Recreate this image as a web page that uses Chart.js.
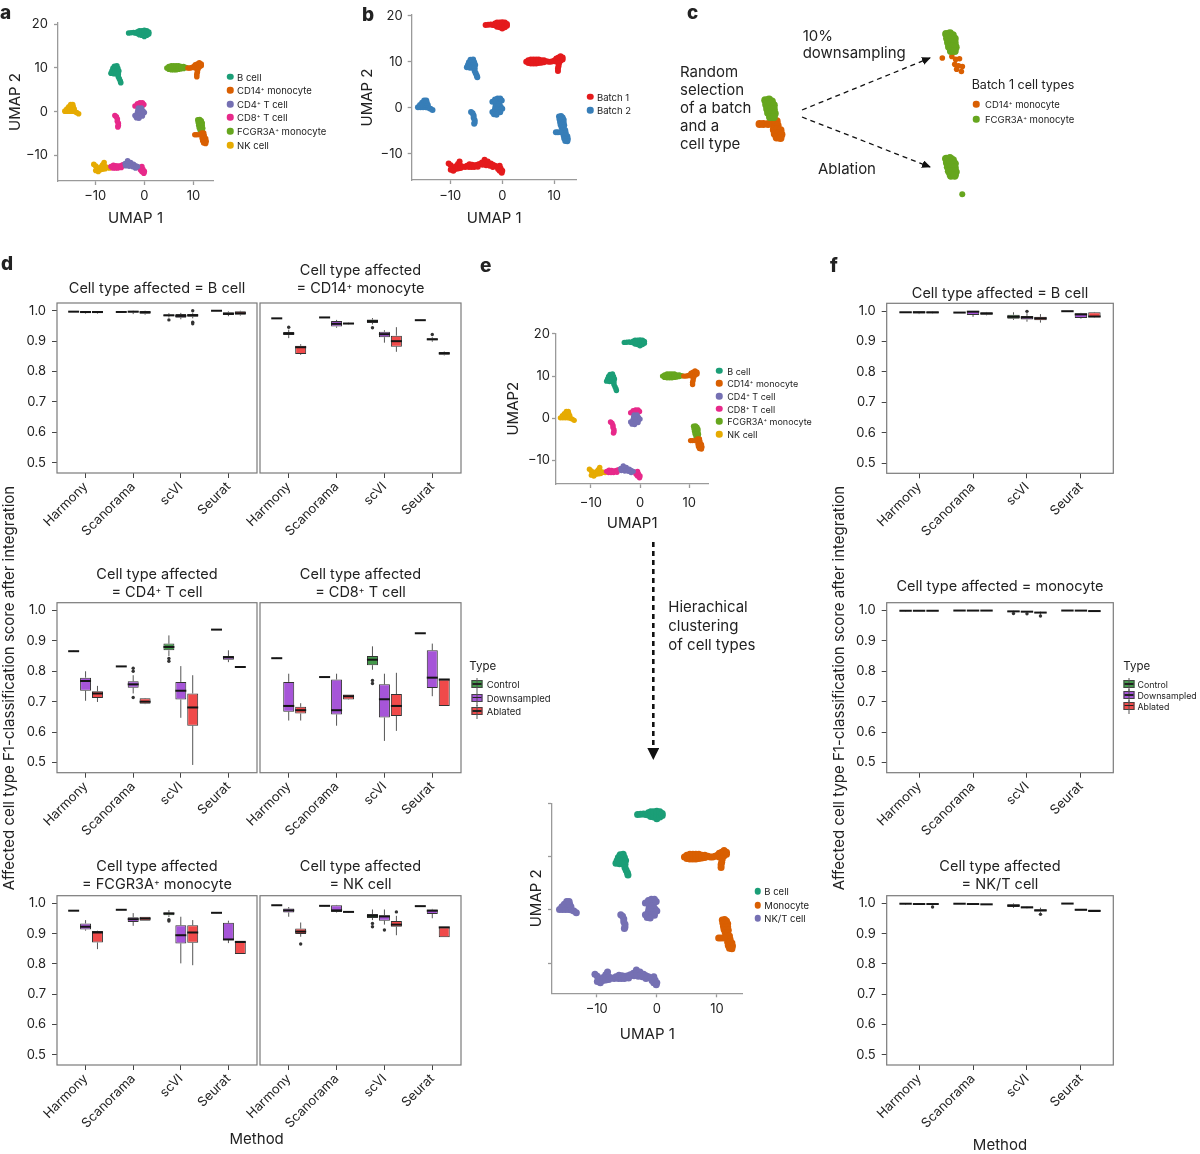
<!DOCTYPE html>
<html><head><meta charset="utf-8">
<script src="https://cdn.jsdelivr.net/npm/chart.js@4.4.0/dist/chart.umd.min.js"></script>
<style>
body{margin:0;background:#fff;}
#fig{position:relative;width:1200px;height:1154px;overflow:hidden;font-family:Inter,"Liberation Sans",Arial,sans-serif;color:#222;background:#fff;}
canvas{position:absolute;}
.t{position:absolute;white-space:nowrap;z-index:5;}
.t sup{font-size:60%;position:relative;top:-0.5em;vertical-align:baseline;line-height:0;}
.dot{position:absolute;width:6.5px;height:6.5px;border-radius:50%;transform:translate(-50%,-50%);z-index:5;}
.key{position:absolute;width:9px;height:6px;border:1px solid #444;transform:translate(-50%,-50%);z-index:5;}
.key:before{content:"";position:absolute;left:0;right:0;top:2px;height:1.5px;background:#222;}
.key:after{content:"";position:absolute;left:4px;width:1px;top:-3px;height:14px;background:#555;z-index:-1;}
svg{position:absolute;left:0;top:0;z-index:4;}
</style></head><body><div id="fig">
<svg width="1200" height="1154">
<defs>
<marker id="ahS" markerUnits="userSpaceOnUse" markerWidth="9" markerHeight="8" refX="8" refY="4" orient="auto"><path d="M0,0 L9,4 L0,8 z" fill="#111"/></marker>
<marker id="ahL" markerUnits="userSpaceOnUse" markerWidth="12" markerHeight="12" refX="10" refY="6" orient="auto"><path d="M0,0 L12,6 L0,12 z" fill="#111"/></marker>
</defs>
<line x1="802" y1="110" x2="930" y2="58" stroke="#111" stroke-width="1.3" stroke-dasharray="5,4" marker-end="url(#ahS)"/>
<line x1="802" y1="117" x2="930" y2="167" stroke="#111" stroke-width="1.3" stroke-dasharray="5,4" marker-end="url(#ahS)"/>
<line x1="653.3" y1="542" x2="653.3" y2="758" stroke="#111" stroke-width="2.6" stroke-dasharray="5,4" marker-end="url(#ahL)"/>
</svg>
</div>
<script>
// ================= DATA =================
const methods = ['Harmony', 'Scanorama', 'scVI', 'Seurat'];
const methodPos = [1, 2, 3, 4];
const typeNames = ['Control', 'Downsampled', 'Ablated'];
const typeFill = ['#43994a', '#a655d8', '#f04a4a'];
const yTickVals = [0.5, 0.6, 0.7, 0.8, 0.9, 1.0];
const yTickLabels = ['0.5', '0.6', '0.7', '0.8', '0.9', '1.0'];
const umapXTicks = [-10, 0, 10];
const umapXLabels = ['\u221210', '0', '10'];
const umapYTicks = [-10, 0, 10, 20];
const umapYLabels = ['\u221210', '0', '10', '20'];

const cellTypes = ['B cell', 'CD14<sup>+</sup> monocyte', 'CD4<sup>+</sup> T cell', 'CD8<sup>+</sup> T cell', 'FCGR3A<sup>+</sup> monocyte', 'NK cell'];
const cellColors = ['#1b9e77', '#d95f02', '#7570b3', '#e7298a', '#66a61e', '#e6ab02'];
const batchNames = ['Batch 1', 'Batch 2'];
const batchColors = ['#e41a1c', '#377eb8'];
const mergedTypes = ['B cell', 'Monocyte', 'NK/T cell'];
const mergedColors = ['#1b9e77', '#d95f02', '#7570b3'];

// UMAP cluster points [UMAP1, UMAP2]
const bTop = [[-3.2,18.0],[-2.7,18.05],[-2.2,18.1],[-1.8,18.0],[-1.4,17.9],[-1.4,18.3],[-1.0,17.6],[-1.0,18.1],[-1.0,18.5],[-0.5,17.5],[-0.5,18.0],[-0.5,18.5],[0.0,17.2],[0.0,17.6],[0.0,18.1],[0.0,18.6],[0.5,17.5],[0.5,18.0],[0.5,18.5],[0.9,17.8],[0.9,18.2]];
const bMid = [[-6.1,10.4],[-5.6,10.5],[-6.4,9.9],[-5.9,9.9],[-5.4,9.9],[-6.6,9.3],[-6.1,9.3],[-5.6,9.3],[-5.2,9.3],[-6.8,8.8],[-6.2,8.7],[-5.7,8.7],[-5.3,8.6],[-5.3,8.0],[-5.1,7.5],[-4.9,7.0],[-4.8,6.6]];
const fcgrTop = [[4.6,10.0],[5.0,9.7],[5.0,10.3],[5.5,9.6],[5.5,10.1],[5.5,10.5],[6.0,9.6],[6.0,10.1],[6.0,10.5],[6.5,9.6],[6.5,10.1],[6.5,10.5],[7.0,9.7],[7.0,10.2],[7.0,10.5],[7.5,9.8],[7.5,10.3],[8.0,9.9],[8.0,10.3],[8.5,10.1]];
const cd14Top = [[8.9,10.0],[9.3,10.0],[9.7,10.1],[10.1,10.3],[10.4,10.0],[10.4,10.7],[10.8,10.3],[10.8,10.9],[11.2,10.2],[11.2,10.7],[11.2,11.2],[11.6,10.5],[11.6,10.9],[10.9,9.6],[10.8,9.0],[10.7,8.5],[10.7,8.0]];
const fcgrRight = [[10.9,-1.9],[11.3,-1.8],[11.6,-2.1],[11.0,-2.5],[11.4,-2.5],[11.8,-2.6],[11.1,-3.1],[11.5,-3.1],[11.8,-3.2],[11.2,-3.7],[11.6,-3.7],[11.9,-3.8],[11.4,-4.3],[11.8,-4.3]];
const cd14Right = [[11.7,-4.9],[12.1,-4.9],[11.8,-5.5],[12.2,-5.5],[11.8,-6.1],[12.2,-6.0],[12.5,-6.2],[11.9,-6.7],[12.3,-6.6],[12.6,-6.8],[12.1,-7.2],[12.5,-7.3],[10.3,-5.3],[10.7,-5.3],[11.2,-5.3]];
const nkLeft = [[-16.2,0.1],[-15.7,0.1],[-15.2,0.1],[-14.7,0.1],[-14.2,0.0],[-15.8,0.6],[-15.3,0.6],[-14.8,0.7],[-14.3,0.6],[-15.4,1.1],[-14.9,1.2],[-14.5,1.1],[-15.0,1.6],[-14.6,1.6],[-13.8,-0.2],[-13.4,-0.5]];
const cd8Mid = [[-6.0,-0.9],[-5.7,-1.2],[-5.5,-1.7],[-5.5,-2.2],[-5.3,-2.7],[-5.3,-3.2],[-5.4,-3.5]];
const cd8Up = [[-1.9,1.3],[-1.4,1.3],[-0.9,1.4],[-0.4,1.4],[-1.4,1.8],[-0.9,2.0],[-0.4,2.0],[-0.1,1.6]];
const cd4Mid = [[-1.2,0.8],[-0.6,0.8],[-1.3,0.3],[-0.8,0.3],[-0.3,0.2],[-1.4,-0.3],[-0.9,-0.3],[-0.3,-0.4],[0.0,-0.2],[-1.9,-0.9],[-1.4,-0.9],[-0.9,-0.9],[-0.4,-1.0],[-1.6,-1.4],[-1.1,-1.5]];
const nkBottom = [[-10.3,-12.1],[-9.9,-12.5],[-9.5,-13.0],[-9.9,-13.5],[-9.4,-13.7],[-9.0,-13.3],[-8.9,-12.7],[-8.5,-12.2],[-8.2,-11.7],[-8.5,-13.2],[-8.0,-12.6],[-8.0,-13.1],[-7.5,-12.8],[-7.1,-12.9]];
const cd8Bottom1 = [[-6.8,-12.6],[-6.3,-12.3],[-5.8,-12.4],[-5.3,-12.5],[-4.8,-12.4],[-4.4,-12.2],[-6.4,-12.9],[-5.9,-12.9],[-5.4,-12.9],[-4.7,-12.8]];
const cd4Bottom = [[-3.9,-11.9],[-3.4,-11.3],[-3.3,-11.9],[-2.8,-11.7],[-2.7,-12.2],[-2.2,-12.1],[-1.8,-12.4],[-1.4,-12.6],[-3.1,-12.5],[-2.4,-12.6],[-1.8,-12.9],[-3.8,-12.4]];
const cd8Bottom2 = [[-1.0,-12.8],[-0.5,-12.6],[-0.8,-13.3],[-0.3,-13.2],[-0.5,-13.7],[0.0,-13.7],[-0.1,-14.1]];
// panel c: downsampled CD14 cells and a stray FCGR3A cell after ablation
const cd14Down = [[10.5,-5.3],[11.5,-5.1],[11.9,-5.5],[12.3,-5.4],[11.8,-6.2],[12.2,-6.4],[12.6,-6.5],[12.0,-6.9],[12.5,-7.2]];
const fcgrStray = [[12.6,-7.0]];

// Box-plot statistics [min, q1, median, q3, max] per method (Harmony, Scanorama, scVI, Seurat)
// rows: Control, Downsampled, Ablated ; outliers: [type, method, value]
const dBcell = [
 [[0.996,0.997,0.997,0.9975,0.998],[0.995,0.996,0.996,0.9965,0.997],[0.978,0.982,0.985,0.988,0.992],[0.999,0.9995,1.0,1.0,1.0]],
 [[0.990,0.992,0.996,0.998,0.999],[0.989,0.994,0.997,0.999,1.0],[0.972,0.977,0.983,0.989,0.993],[0.982,0.986,0.990,0.995,0.998]],
 [[0.990,0.992,0.996,0.998,0.999],[0.987,0.990,0.995,0.999,1.0],[0.975,0.980,0.985,0.989,0.992],[0.984,0.987,0.992,0.998,1.0]]];
const dBcellOut = [[0,2,0.970],[2,2,1.0],[2,2,0.962],[2,2,0.957]];
const dCD14 = [
 [[0.974,0.975,0.975,0.9755,0.976],[0.977,0.978,0.978,0.9785,0.979],[0.955,0.960,0.966,0.971,0.976],[0.968,0.969,0.969,0.9695,0.970]],
 [[0.910,0.920,0.925,0.930,0.938],[0.944,0.948,0.957,0.966,0.970],[0.895,0.913,0.923,0.931,0.936],[0.898,0.903,0.906,0.910,0.913]],
 [[0.855,0.858,0.880,0.885,0.890],[0.955,0.956,0.958,0.960,0.961],[0.865,0.882,0.900,0.918,0.946],[0.853,0.855,0.860,0.864,0.866]]];
const dCD14Out = [[1,0,0.946],[0,2,0.944],[1,3,0.922]];
const dCD4 = [
 [[0.864,0.865,0.866,0.867,0.868],[0.815,0.816,0.816,0.8165,0.817],[0.850,0.869,0.880,0.891,0.918],[0.936,0.937,0.937,0.9375,0.938]],
 [[0.703,0.736,0.768,0.779,0.800],[0.727,0.746,0.757,0.767,0.787],[0.647,0.707,0.736,0.765,0.817],[0.830,0.838,0.846,0.850,0.869]],
 [[0.699,0.712,0.727,0.734,0.752],[0.692,0.693,0.700,0.711,0.712],[0.492,0.621,0.681,0.727,0.787],[0.813,0.8135,0.814,0.8145,0.815]]];
const dCD4Out = [[1,1,0.810],[1,1,0.800],[1,1,0.714],[0,2,0.842],[0,2,0.833]];
const dCD8 = [
 [[0.842,0.843,0.843,0.844,0.845],[0.780,0.781,0.781,0.7815,0.782],[0.805,0.820,0.838,0.850,0.882],[0.924,0.925,0.925,0.9255,0.926]],
 [[0.638,0.667,0.686,0.765,0.792],[0.621,0.658,0.672,0.773,0.792],[0.571,0.648,0.708,0.757,0.792],[0.718,0.745,0.779,0.869,0.891]],
 [[0.638,0.661,0.672,0.683,0.695],[0.706,0.707,0.718,0.724,0.724],[0.604,0.653,0.686,0.725,0.795],[0.686,0.686,0.773,0.773,0.773]]];
const dCD8Out = [[0,2,0.770],[0,2,0.760]];
const dFCGR = [
 [[0.975,0.976,0.976,0.9765,0.977],[0.978,0.979,0.979,0.9795,0.980],[0.955,0.961,0.967,0.970,0.978],[0.968,0.969,0.969,0.9695,0.970]],
 [[0.910,0.914,0.923,0.934,0.945],[0.926,0.939,0.948,0.954,0.968],[0.802,0.868,0.895,0.928,0.956],[0.869,0.879,0.881,0.936,0.943]],
 [[0.849,0.871,0.904,0.909,0.910],[0.943,0.943,0.950,0.956,0.956],[0.796,0.870,0.904,0.928,0.945],[0.833,0.833,0.873,0.873,0.873]]];
const dFCGROut = [[0,2,0.946],[0,2,0.942]];
const dNK = [
 [[0.993,0.994,0.994,0.9945,0.995],[0.991,0.992,0.992,0.9925,0.993],[0.945,0.952,0.959,0.965,0.980],[0.990,0.991,0.991,0.9915,0.992]],
 [[0.956,0.970,0.977,0.983,0.988],[0.970,0.972,0.977,0.994,0.995],[0.930,0.943,0.957,0.961,0.980],[0.951,0.965,0.976,0.980,0.982]],
 [[0.890,0.899,0.907,0.917,0.937],[0.970,0.971,0.972,0.973,0.974],[0.895,0.923,0.930,0.942,0.959],[0.888,0.888,0.921,0.921,0.921]]];
const dNKOut = [[0,2,0.934],[0,2,0.923],[1,2,0.912],[2,2,0.972],[2,0,0.866]];
const fBcell = [
 [[0.994,0.995,0.996,0.997,0.997],[0.995,0.995,0.995,0.9955,0.996],[0.971,0.975,0.981,0.988,0.996],[0.999,0.9995,0.9995,1.0,1.0]],
 [[0.990,0.992,0.996,0.999,1.0],[0.981,0.987,0.998,1.0,1.0],[0.965,0.972,0.979,0.984,0.993],[0.975,0.977,0.989,0.993,0.994]],
 [[0.991,0.992,0.996,0.998,0.999],[0.986,0.988,0.992,0.996,0.997],[0.962,0.970,0.976,0.981,0.990],[0.979,0.980,0.982,0.996,0.997]]];
const fBcellOut = [[1,2,0.999]];
const fMono = [
 [[0.997,0.9985,0.999,0.9993,1.0],[0.9995,0.9996,0.9997,0.9998,1.0],[0.994,0.996,0.997,0.998,0.999],[0.9995,0.9996,0.9997,0.9998,1.0]],
 [[0.998,0.9985,0.999,0.9993,1.0],[0.999,0.9994,0.9996,0.9998,1.0],[0.990,0.995,0.996,0.997,0.998],[0.999,0.9992,0.9995,0.9998,1.0]],
 [[0.998,0.9985,0.999,0.9993,1.0],[0.999,0.9994,0.9996,0.9998,1.0],[0.986,0.992,0.993,0.994,0.996],[0.995,0.996,0.998,1.0,1.0]]];
const fMonoOut = [[0,2,0.990],[1,2,0.989],[2,2,0.982]];
const fNKT = [
 [[0.996,0.998,0.999,0.9993,1.0],[0.9988,0.999,0.999,0.9992,0.9994],[0.985,0.988,0.993,0.997,1.0],[0.9993,0.9994,0.9995,0.9996,0.9997]],
 [[0.995,0.997,0.998,0.9985,1.0],[0.9975,0.998,0.998,0.9982,0.9985],[0.983,0.984,0.987,0.990,0.991],[0.977,0.977,0.979,0.982,0.982]],
 [[0.994,0.997,0.998,0.999,0.999],[0.9965,0.997,0.997,0.9972,0.9975],[0.969,0.973,0.977,0.981,0.986],[0.972,0.973,0.975,0.980,0.980]]];
const fNKTOut = [[2,0,0.988],[2,2,0.964]];

// ================= HELPERS =================
Chart.defaults.font.family = 'Inter, "Liberation Sans", Arial, sans-serif';
Chart.defaults.color = '#222';
const fig = document.getElementById('fig');
const Y_MIN = 0.4665, Y_MAX = 1.0255;

function mkCanvas(c) {
  const cv = document.createElement('canvas');
  cv.width = Math.round(c.r - c.l); cv.height = Math.round(c.b - c.t);
  cv.style.left = c.l + 'px'; cv.style.top = c.t + 'px';
  cv.style.width = cv.width + 'px'; cv.style.height = cv.height + 'px';
  fig.appendChild(cv); return cv;
}
function T(x, y, html, o = {}) {
  const d = document.createElement('div'); d.className = 't'; d.innerHTML = html;
  const size = o.size || 15; d.style.fontSize = size + 'px';
  d.style.lineHeight = (o.lh || Math.round(size * 1.2)) + 'px';
  if (o.bold) d.style.fontWeight = o.bold;
  if (o.align) d.style.textAlign = o.align;
  const ax = o.anchor === 'center' ? '-50%' : o.anchor === 'right' ? '-100%' : '0';
  d.style.left = x + 'px'; d.style.top = y + 'px';
  d.style.transform = o.rot ? `translate(-50%,-50%) rotate(${o.rot}deg)` : `translate(${ax},-50%)`;
  fig.appendChild(d); return d;
}
function dotLegend(xDot, xText, ys, labels, colors, size) {
  ys.forEach((y, i) => {
    const d = document.createElement('div'); d.className = 'dot';
    d.style.left = xDot + 'px'; d.style.top = y + 'px'; d.style.background = colors[i];
    fig.appendChild(d);
    T(xText, y, labels[i], {size: size || 9.5});
  });
}
function typeLegend(xTitle, yTitle, xKey, xText, ys, size) {
  T(xTitle, yTitle, 'Type', {size: 11.5});
  ys.forEach((y, i) => {
    const k = document.createElement('div'); k.className = 'key';
    k.style.left = xKey + 'px'; k.style.top = y + 'px'; k.style.background = typeFill[i];
    fig.appendChild(k);
    T(xText, y, typeNames[i], {size: size || 9.5});
  });
}
function pts(arr) { return arr.map(p => ({x: p[0], y: p[1]})); }

function scatter(plot, cnv, sets, xr, yr, o) {
  const cv = mkCanvas(cnv);
  const datasets = sets.map(s => ({data: pts(s.data), backgroundColor: s.color, pointBackgroundColor: s.color,
    pointRadius: s.r || o.r, pointBorderWidth: 0, pointHoverRadius: s.r || o.r}));
  const showAxes = !o.noAxes;
  new Chart(cv, {
    type: 'scatter', data: {datasets},
    options: {
      responsive: false, animation: false, events: [],
      layout: {padding: showAxes ? {left: 0, top: plot.t - cnv.t, right: cnv.r - plot.r, bottom: 0} : 0},
      plugins: {legend: {display: false}, tooltip: {enabled: false}},
      scales: {
        x: {type: 'linear', min: xr[0], max: xr[1], display: showAxes,
          afterBuildTicks: a => { a.ticks = umapXTicks.map(v => ({value: v})); },
          ticks: {callback: (v, i) => umapXLabels[i], font: {size: 13}, color: '#222', padding: o.xpad, maxRotation: 0, autoSkip: false},
          grid: {display: true, drawOnChartArea: false, drawTicks: true, tickLength: 4, tickColor: '#9a9a9a', tickWidth: 1.3},
          border: {display: true, color: '#9a9a9a', width: 1.3},
          title: {display: true, text: o.xTitle, font: {size: 15}, color: '#222', padding: {top: 0, bottom: o.xtp}},
          afterFit: s => { s.height = cnv.b - plot.b; }},
        y: {type: 'linear', min: yr[0], max: yr[1], display: showAxes,
          afterBuildTicks: a => { a.ticks = umapYTicks.map(v => ({value: v})); },
          ticks: {callback: (v, i) => o.noYLabels ? '' : umapYLabels[i], font: {size: 13}, color: '#222', padding: o.ypad, autoSkip: false},
          grid: {display: true, drawOnChartArea: false, drawTicks: true, tickLength: 4, tickColor: '#9a9a9a', tickWidth: 1.3},
          border: {display: true, color: '#9a9a9a', width: 1.3},
          title: {display: true, text: o.yTitle, font: {size: 15}, color: '#222', padding: {top: o.ytp, bottom: 0}},
          afterFit: s => { s.width = plot.l - cnv.l; }}
      }
    }
  });
}

function makeBoxPlugin(stats, outs) {
  return {
    id: 'boxplot',
    beforeDatasetsDraw(chart) {
      const ctx = chart.ctx, ys = chart.scales.y;
      ctx.save(); ctx.strokeStyle = '#555'; ctx.lineWidth = 1;
      stats.forEach((rows, ti) => {
        const meta = chart.getDatasetMeta(ti);
        rows.forEach((s, mi) => {
          const b = meta.data[mi]; if (!b) return;
          ctx.beginPath();
          ctx.moveTo(b.x, ys.getPixelForValue(s[3])); ctx.lineTo(b.x, ys.getPixelForValue(s[4]));
          ctx.moveTo(b.x, ys.getPixelForValue(s[1])); ctx.lineTo(b.x, ys.getPixelForValue(s[0]));
          ctx.stroke();
        });
      });
      ctx.restore();
    },
    afterDatasetsDraw(chart) {
      const ctx = chart.ctx, ys = chart.scales.y, ca = chart.chartArea;
      ctx.save();
      ctx.strokeStyle = '#151515'; ctx.lineWidth = 2;
      stats.forEach((rows, ti) => {
        const meta = chart.getDatasetMeta(ti);
        rows.forEach((s, mi) => {
          const b = meta.data[mi]; if (!b) return;
          const y = ys.getPixelForValue(s[2]);
          ctx.beginPath(); ctx.moveTo(b.x - b.width / 2, y); ctx.lineTo(b.x + b.width / 2, y); ctx.stroke();
        });
      });
      ctx.fillStyle = '#333';
      outs.forEach(o => {
        const b = chart.getDatasetMeta(o[0]).data[o[1]];
        ctx.beginPath(); ctx.arc(b.x, ys.getPixelForValue(o[2]), 1.7, 0, Math.PI * 2); ctx.fill();
      });
      ctx.strokeStyle = '#7a7a7a'; ctx.lineWidth = 1.2;
      ctx.strokeRect(ca.left, ca.top, ca.right - ca.left, ca.bottom - ca.top);
      ctx.restore();
    }
  };
}

function boxChart(plot, stats, outs, showY) {
  const cnv = {l: Math.round(plot.l - (showY ? 57 : 26)), t: Math.round(plot.t - 16), r: Math.round(plot.r + 4), b: Math.round(plot.b + 80)};
  const cv = mkCanvas(cnv);
  const datasets = typeNames.map((n, ti) => ({
    label: n,
    data: methodPos.map((p, mi) => ({x: p, y: [stats[ti][mi][1], stats[ti][mi][3]]})),
    backgroundColor: typeFill[ti], borderColor: '#333', borderWidth: 1, borderSkipped: false,
    categoryPercentage: 0.75, barPercentage: 0.92
  }));
  new Chart(cv, {
    type: 'bar', data: {datasets},
    options: {
      responsive: false, animation: false, events: [],
      layout: {padding: {left: 0, top: plot.t - cnv.t, right: cnv.r - plot.r, bottom: 0}},
      plugins: {legend: {display: false}, tooltip: {enabled: false}},
      scales: {
        x: {type: 'linear', min: 0.4, max: 4.6, offset: false,
          afterBuildTicks: a => { a.ticks = methodPos.map(v => ({value: v})); },
          ticks: {callback: (v, i) => methods[i], minRotation: 45, maxRotation: 45, autoSkip: false, font: {size: 13}, color: '#222', padding: 1},
          grid: {display: true, offset: false, drawOnChartArea: false, drawTicks: true, tickLength: 5, tickColor: '#444'},
          border: {display: false},
          afterFit: s => { s.height = cnv.b - plot.b; }},
        y: {type: 'linear', min: Y_MIN, max: Y_MAX,
          afterBuildTicks: a => { a.ticks = yTickVals.map(v => ({value: v})); },
          ticks: {display: showY, callback: (v, i) => yTickLabels[i], font: {size: 13}, color: '#222', padding: 6, autoSkip: false},
          grid: {display: true, drawOnChartArea: false, drawTicks: showY, tickLength: 5, tickColor: '#444'},
          border: {display: false},
          afterFit: s => { s.width = plot.l - cnv.l; }}
      }
    },
    plugins: [makeBoxPlugin(stats, outs)]
  });
}

// ================= PANEL a =================
const bCell = [...bTop, ...bMid];
const cd14 = [...cd14Top, ...cd14Right];
const cd4 = [...cd4Mid, ...cd4Bottom];
const cd8 = [...cd8Mid, ...cd8Up, ...cd8Bottom1, ...cd8Bottom2];
const fcgr = [...fcgrTop, ...fcgrRight];
const nk = [...nkLeft, ...nkBottom];
const byType = [bCell, cd14, cd4, cd8, fcgr, nk];
const typeSets = byType.map((d, i) => ({data: d, color: cellColors[i]}));

scatter({l: 58, t: 23, r: 213, b: 181}, {l: 0, t: 7, r: 222, b: 230}, typeSets,
  [-17.6, 14.0], [-15.9, 20.3], {r: 2.8, xpad: 3, ypad: 6, xTitle: 'UMAP 1', yTitle: 'UMAP 2', xtp: 3, ytp: 6});
dotLegend(230, 237, [76.7, 90, 104, 117.3, 131.3, 145.3], cellTypes, cellColors, 9.5);
T(0, 12, 'a', {size: 19, bold: 800});

// ================= PANEL b =================
const batch1 = [...bTop, ...fcgrTop, ...cd14Top, ...nkBottom, ...cd8Bottom1, ...cd4Bottom, ...cd8Bottom2];
const batch2 = [...bMid, ...nkLeft, ...cd8Mid, ...cd8Up, ...cd4Mid, ...fcgrRight, ...cd14Right];
scatter({l: 411.7, t: 15, r: 576.7, b: 180}, {l: 358, t: 0, r: 585, b: 230},
  [{data: batch1, color: batchColors[0]}, {data: batch2, color: batchColors[1]}],
  [-17.4, 14.3], [-15.7, 20.15], {r: 3, xpad: 4, ypad: 5, xTitle: 'UMAP 1', yTitle: 'UMAP 2', xtp: 3, ytp: 0});
dotLegend(590, 597, [96.7, 110], batchNames, batchColors, 9.5);
T(362, 14, 'b', {size: 19, bold: 800});

// ================= PANEL c =================
const cSets = [{data: fcgrRight, color: cellColors[4]}, {data: cd14Right, color: cellColors[1]}];
scatter({l: 740, t: 85, r: 800, b: 150}, {l: 740, t: 85, r: 800, b: 150}, cSets,
  [8.67, 14.13], [-8.43, -0.3], {r: 4, noAxes: true});
scatter({l: 920, t: 15, r: 980, b: 85}, {l: 920, t: 15, r: 980, b: 85},
  [{data: fcgrRight, color: cellColors[4], r: 4}, {data: cd14Down, color: cellColors[1], r: 2.8}],
  [8.58, 14.03], [-8.55, 0.2], {r: 4, noAxes: true});
scatter({l: 920, t: 140, r: 980, b: 205}, {l: 920, t: 140, r: 980, b: 205},
  [{data: fcgrRight, color: cellColors[4], r: 4.2}, {data: fcgrStray, color: cellColors[4], r: 3}],
  [8.58, 14.03], [-7.925, 0.2], {r: 4, noAxes: true});
T(687, 12, 'c', {size: 19, bold: 800});
T(680, 107.8, 'Random<br>selection<br>of a batch<br>and a<br>cell type', {size: 15, lh: 18.1});
T(802.7, 45, '10%<br>downsampling', {size: 15, lh: 16.7});
T(818, 169.3, 'Ablation', {size: 15});
T(971.7, 84, 'Batch 1 cell types', {size: 12.5});
dotLegend(976, 985, [104, 119.3], ['CD14<sup>+</sup> monocyte', 'FCGR3A<sup>+</sup> monocyte'], [cellColors[1], cellColors[4]], 9.5);

// ================= PANEL d =================
T(1, 263.4, 'd', {size: 19, bold: 800});
const dL = {l: 57, r: 257}, dR = {l: 260, r: 461};
const dRowsY = [[303, 473], [602.7, 772.7], [895.7, 1065]];
boxChart({l: dL.l, r: dL.r, t: dRowsY[0][0], b: dRowsY[0][1]}, dBcell, dBcellOut, true);
boxChart({l: dR.l, r: dR.r, t: dRowsY[0][0], b: dRowsY[0][1]}, dCD14, dCD14Out, false);
boxChart({l: dL.l, r: dL.r, t: dRowsY[1][0], b: dRowsY[1][1]}, dCD4, dCD4Out, true);
boxChart({l: dR.l, r: dR.r, t: dRowsY[1][0], b: dRowsY[1][1]}, dCD8, dCD8Out, false);
boxChart({l: dL.l, r: dL.r, t: dRowsY[2][0], b: dRowsY[2][1]}, dFCGR, dFCGROut, true);
boxChart({l: dR.l, r: dR.r, t: dRowsY[2][0], b: dRowsY[2][1]}, dNK, dNKOut, false);
const tc = {size: 14.5, anchor: 'center', align: 'center', lh: 18.3};
T(157, 288.3, 'Cell type affected = B cell', tc);
T(360.5, 279.2, 'Cell type affected<br>= CD14<sup>+</sup> monocyte', tc);
T(157, 582.9, 'Cell type affected<br>= CD4<sup>+</sup> T cell', tc);
T(360.5, 582.9, 'Cell type affected<br>= CD8<sup>+</sup> T cell', tc);
T(157, 874.9, 'Cell type affected<br>= FCGR3A<sup>+</sup> monocyte', tc);
T(360.5, 874.9, 'Cell type affected<br>= NK cell', tc);
T(8.5, 688, 'Affected cell type F1-classification score after integration', {size: 15, rot: -90});
T(256.7, 1139, 'Method', {size: 15, anchor: 'center'});
typeLegend(469.3, 666, 477, 486.7, [684.3, 697.5, 711]);

// ================= PANEL e =================
T(480, 265.4, 'e', {size: 19, bold: 800});
scatter({l: 556, t: 333.3, r: 708.3, b: 484}, {l: 500, t: 317, r: 716, b: 532}, typeSets,
  [-17.1, 13.9], [-15.6, 20.16], {r: 2.7, xpad: 7, ypad: 2, xTitle: 'UMAP1', yTitle: 'UMAP2', xtp: 0, ytp: 4});
dotLegend(719.3, 727.3, [370.7, 383, 396, 408.5, 421, 434], cellTypes, cellColors, 9);
const monoMerged = [...fcgrTop, ...cd14Top, ...fcgrRight, ...cd14Right];
const nktMerged = [...nkLeft, ...nkBottom, ...cd4Mid, ...cd4Bottom, ...cd8Mid, ...cd8Up, ...cd8Bottom1, ...cd8Bottom2];
scatter({l: 552, t: 803.3, r: 742.7, b: 993.3}, {l: 520, t: 787, r: 750, b: 1043},
  [{data: bCell, color: mergedColors[0]}, {data: monoMerged, color: mergedColors[1]}, {data: nktMerged, color: mergedColors[2]}],
  [-17.45, 14.3], [-15.7, 20.1], {r: 3.5, xpad: 4, ypad: 2, xTitle: 'UMAP 1', yTitle: 'UMAP 2', xtp: 0, ytp: 7, noYLabels: true});
dotLegend(757.7, 764.3, [891, 905, 918.3], mergedTypes, mergedColors, 9.5);
T(668.3, 625.9, 'Hierachical<br>clustering<br>of cell types', {size: 15, lh: 19.2});

// ================= PANEL f =================
T(830, 265.4, 'f', {size: 19, bold: 800});
const fX = {l: 886.7, r: 1113.3};
boxChart({l: fX.l, r: fX.r, t: 303.3, b: 473.3}, fBcell, fBcellOut, true);
boxChart({l: fX.l, r: fX.r, t: 602.7, b: 772.7}, fMono, fMonoOut, true);
boxChart({l: fX.l, r: fX.r, t: 895.7, b: 1065}, fNKT, fNKTOut, true);
T(1000, 293.3, 'Cell type affected = B cell', tc);
T(1000, 586, 'Cell type affected = monocyte', tc);
T(1000, 874.9, 'Cell type affected<br>= NK/T cell', tc);
T(839, 688, 'Affected cell type F1-classification score after integration', {size: 15, rot: -90});
T(1000, 1145, 'Method', {size: 15, anchor: 'center'});
typeLegend(1123.3, 666, 1129, 1137.5, [684.3, 695, 705.7], 8.8);
</script>
</body></html>
